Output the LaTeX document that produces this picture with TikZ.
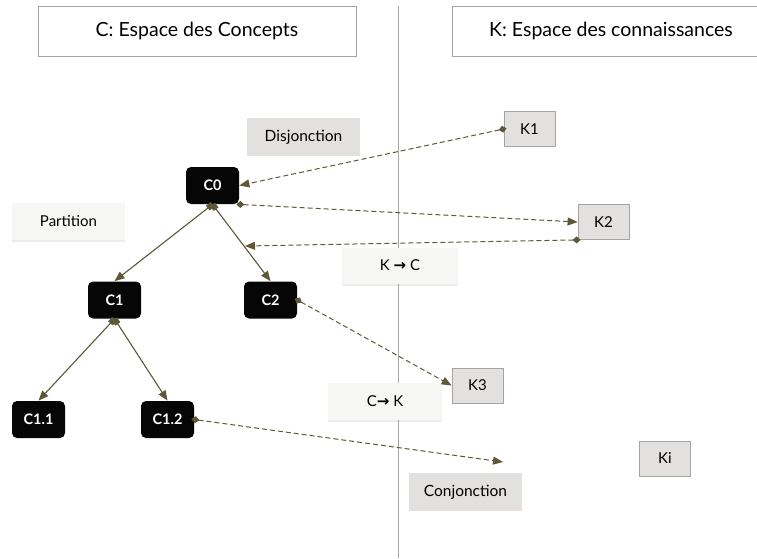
\documentclass[tikz,border=0pt]{standalone}
\usepackage{fontspec}
\setmainfont{Lato}
\newfontfamily\flechefont{DejaVu Sans}
\usetikzlibrary{arrows.meta,shadows}
\definecolor{lienolive}{HTML}{5E5838}
\definecolor{fondgris}{HTML}{E2E1DF}
\definecolor{fondpale}{HTML}{F6F6F4}
\definecolor{bordgris}{HTML}{A4A4A4}
\definecolor{noirconcept}{HTML}{060606}
\begin{document}
\begin{tikzpicture}[x=1pt,y=-1pt,line width=.8pt,
  titre/.style={draw=bordgris,minimum width=318pt,minimum height=50pt,font=\fontsize{19.5}{22}\selectfont},
  concept/.style={fill=noirconcept,rounded corners=5pt,text=white,minimum width=53pt,minimum height=37pt,font=\bfseries\fontsize{14.5}{16}\selectfont},
  savoir/.style={draw=bordgris,fill=fondgris,minimum width=51pt,minimum height=35pt,font=\fontsize{15}{17}\selectfont},
  etiquette/.style={fill=fondgris,minimum width=113pt,minimum height=38pt,font=\fontsize{15.5}{17}\selectfont},
  operation/.style={fill=fondpale,minimum width=114pt,minimum height=37pt,font=\fontsize{15}{17}\selectfont,
    drop shadow={shadow xshift=0pt,shadow yshift=-2pt,opacity=.15}},
  arbre/.style={draw=lienolive,line width=1.1pt,{Square[length=6pt,width=6pt]}-{Triangle[length=10pt,width=8pt]}},
  lien/.style={draw=lienolive,line width=1pt,dash pattern=on 5pt off 3pt,shorten <=-3pt,{Diamond[length=8pt,width=7pt]}-{Triangle[length=10pt,width=8pt]}}]
  \useasboundingbox[fill=white] (0,0) rectangle (757,558);
  \draw[black!35,line width=1pt] (398,6)--(398,558);
  \node[titre] (tc) at (197,31) {C: Espace des Concepts};
  \node[titre] (tk) at (611,31) {K: Espace des connaissances};
  \node[etiquette] (disj) at (303.5,137) {Disjonction};
  \node[etiquette] (conj) at (465.5,492) {Conjonction};
  \node[operation,minimum width=113pt] (part) at (68.5,221.5) {Partition};
  \node[operation,minimum width=116pt,minimum height=36pt] (kc) at (400,265.5) {K {\flechefont\bfseries→} C};
  \node[operation] (ck) at (385,401.5) {C{\flechefont\bfseries→} K};
  \node[concept] (c0) at (212.5,185.5) {C0};
  \node[concept] (c1) at (114.5,300) {C1};
  \node[concept] (c2) at (270.5,300) {C2};
  \node[concept] (c11) at (38.5,419.5) {C1.1};
  \node[concept] (c12) at (167.5,419.5) {C1.2};
  \node[savoir] (k1) at (529.5,129) {K1};
  \node[savoir] (k2) at (603.5,222) {K2};
  \node[savoir] (k3) at (477.5,385.5) {K3};
  \node[savoir] (ki) at (665,458.5) {Ki};
  \coordinate (retour) at (245,246);
  \coordinate (vide) at (503,462);
  \draw[arbre] (c0.south)--(c1.north);
  \draw[arbre] (c0.south)--(c2.north);
  \draw[arbre] (c1.south)--(c11.north);
  \draw[arbre] (c1.south)--(c12.north);
  \draw[lien] (k1.west)--(c0.east);
  \draw[lien] (c0.south east)--(k2.west);
  \draw[lien] (k2.south west)--(retour);
  \draw[lien] (c2.east)--(k3.west);
  \draw[lien] (c12.east)--(vide);
\end{tikzpicture}
\end{document}
